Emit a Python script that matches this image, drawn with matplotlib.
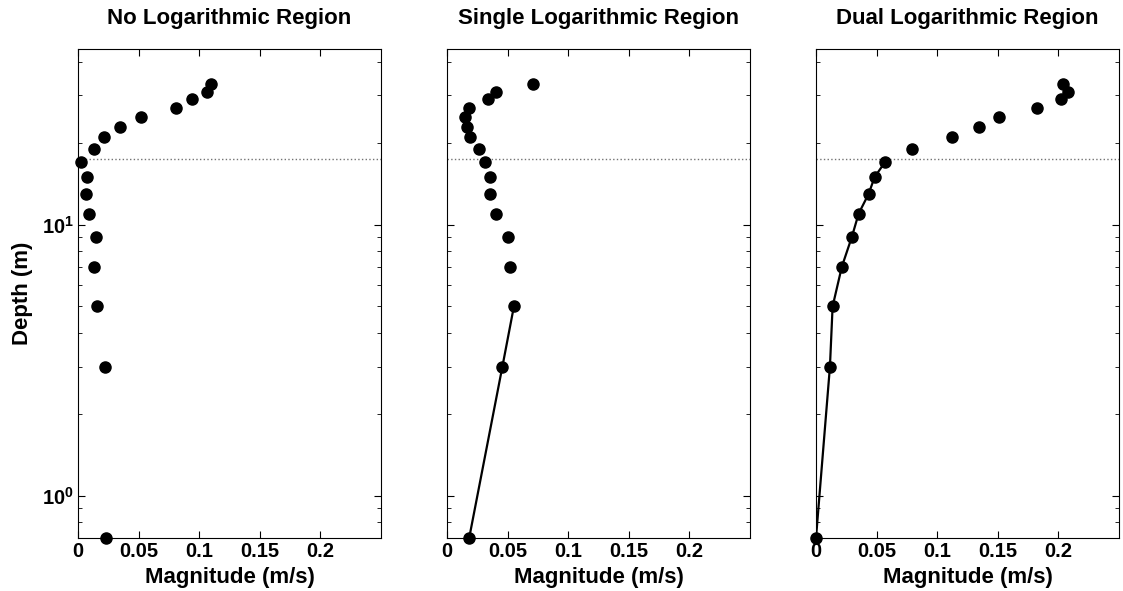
"""
Velocity magnitude profiles vs depth, three fitting scenarios
"""

import numpy as np
import matplotlib.pyplot as plt
from matplotlib.ticker import LogLocator, NullFormatter

plt.rcParams['font.family'] = ['Liberation Sans', 'DejaVu Sans']
plt.rcParams['font.weight'] = 'bold'
plt.rcParams['mathtext.fontset'] = 'custom'
plt.rcParams['mathtext.rm'] = 'Liberation Sans:bold'
plt.rcParams['mathtext.default'] = 'rm'

#Data (depth bins, bottom to top)
depth = [0.7, 3, 5, 7, 9, 11, 13, 15, 17, 19, 21, 23, 25, 27, 29, 31, 33]

mag_none = [0.0235, 0.0221, 0.0156, 0.0131, 0.0145, 0.0088, 0.0063, 0.0076, 0.0025,
            0.0134, 0.0213, 0.0344, 0.0519, 0.0811, 0.0937, 0.1068, 0.1100]
mag_single = [0.0183, 0.0457, 0.0552, 0.0522, 0.0506, 0.0407, 0.0358, 0.0352, 0.0317,
              0.0265, 0.0189, 0.0161, 0.0148, 0.0183, 0.0342, 0.0407, 0.0707]
mag_dual = [0.0, 0.0115, 0.0137, 0.0213, 0.0295, 0.0352, 0.0434, 0.0484, 0.0568,
            0.0795, 0.1123, 0.1347, 0.1508, 0.1822, 0.2022, 0.2076, 0.2041]

titles = ['No Logarithmic Region', 'Single Logarithmic Region', 'Dual Logarithmic Region']
n_fit = [0, 3, 9]  # number of bottom points joined by the log-fit line
surface_layer = 17.5  # dotted line depth (m)
xticks = [0, 0.05, 0.1, 0.15, 0.2]
xticklabels = ['0', '0.05', '0.1', '0.15', '0.2']

fig = plt.figure(figsize=(11.23, 5.91), dpi=100)
lefts = [78, 447, 816]

for i, mags in enumerate([mag_none, mag_single, mag_dual]):
    ax = fig.add_axes([lefts[i] / 1123, 53 / 591, 303 / 1123, 489 / 591])

    #surface layer marker
    ax.axhline(surface_layer, color='0.45', linestyle=':', linewidth=1.0, zorder=1)

    #log fit through the lowest bins
    if n_fit[i] > 0:
        ax.plot(mags[:n_fit[i]], depth[:n_fit[i]], color='black', linewidth=1.6, zorder=2)

    ax.plot(mags, depth, 'o', color='black', markersize=8, clip_on=False, zorder=3)

    ax.set_yscale('log')
    ax.set_xlim(0, 0.25)
    ax.set_ylim(0.7, 44.5)
    ax.set_xticks(xticks)
    ax.set_xticklabels(xticklabels)
    ax.yaxis.set_major_locator(LogLocator(base=10, numticks=5))
    ax.yaxis.set_minor_locator(LogLocator(base=10, subs=np.arange(2, 10), numticks=20))
    ax.yaxis.set_minor_formatter(NullFormatter())

    ax.tick_params(which='both', direction='in', top=True, right=True,
                   labelsize=14.5, pad=3)
    ax.tick_params(which='major', length=5, width=0.8)
    ax.tick_params(which='minor', length=3, width=0.6)
    for spine in ax.spines.values():
        spine.set_linewidth(0.8)

    ax.set_title(titles[i], fontsize=16, fontweight='bold', pad=18)
    ax.set_xlabel('Magnitude (m/s)', fontsize=16, fontweight='bold', labelpad=4)

    if i == 0:
        ax.set_ylabel('Depth (m)', fontsize=16, fontweight='bold', labelpad=6)
    else:
        ax.set_yticklabels([])

fig.savefig('out.png', dpi=100)
